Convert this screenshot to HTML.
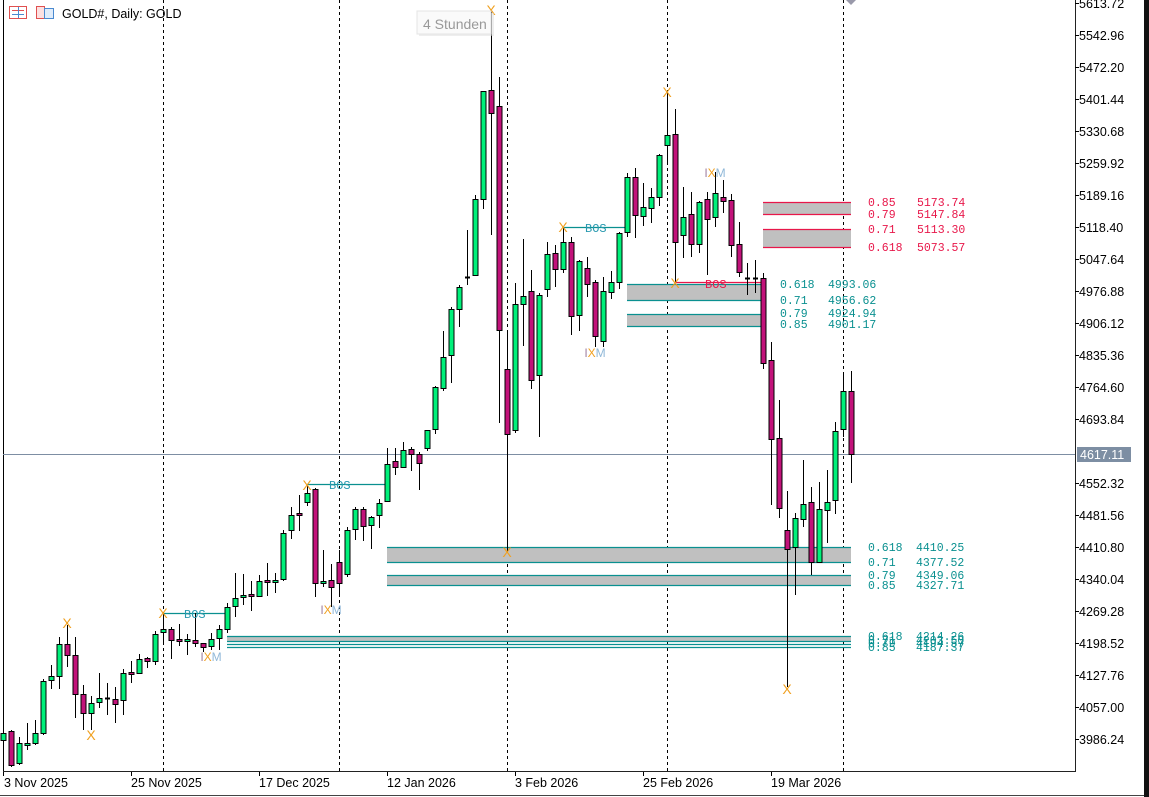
<!DOCTYPE html>
<html><head><meta charset="utf-8"><style>
html,body{margin:0;padding:0;background:#fff;width:1149px;height:797px;overflow:hidden}
svg{display:block}
text{font-family:"Liberation Sans",sans-serif}
.ax text{font-size:12.5px;fill:#000}
.m text{font-family:"Liberation Mono",monospace;font-size:11.5px}
.t text,.t{fill:#0a9090}.r text,.r{fill:#e8174a}
</style></head><body>
<svg id="s" width="1149" height="797" xmlns="http://www.w3.org/2000/svg">
<rect x="0" y="0" width="1149" height="797" fill="#fff"/>
<line x1="3.5" y1="0" x2="3.5" y2="772" stroke="#000"/>
<line x1="1075.5" y1="0" x2="1075.5" y2="772" stroke="#222"/>
<line x1="3" y1="771.5" x2="1076" y2="771.5" stroke="#222"/>
<rect x="1144" y="0" width="5" height="797" fill="#111"/>
<line x1="0" y1="795.5" x2="1144" y2="795.5" stroke="#444"/>
<g stroke="#000" stroke-dasharray="3,3" stroke-width="1">
<line x1="163.5" y1="0" x2="163.5" y2="771"/><line x1="339.5" y1="0" x2="339.5" y2="771"/>
<line x1="507.5" y1="0" x2="507.5" y2="771"/><line x1="667.5" y1="0" x2="667.5" y2="771"/>
<line x1="843.5" y1="0" x2="843.5" y2="771"/>
</g>
<g fill="#c0c0c0">
<rect x="763" y="202" width="88" height="12"/><rect x="763" y="229" width="88" height="18"/>
<rect x="627" y="284" width="136" height="16"/><rect x="627" y="314" width="136" height="12"/>
<rect x="387" y="547" width="464" height="15"/><rect x="387" y="575" width="464" height="10"/>
<rect x="227" y="636" width="624" height="5"/>
</g>
<g stroke="#e8174a" stroke-width="1.2">
<line x1="763" y1="202.5" x2="851" y2="202.5"/><line x1="763" y1="214.5" x2="851" y2="214.5"/>
<line x1="763" y1="229.5" x2="851" y2="229.5"/><line x1="763" y1="247.5" x2="851" y2="247.5"/>
<line x1="675" y1="282.5" x2="763" y2="282.5"/>
</g>
<g stroke="#0a9090" stroke-width="1.2">
<line x1="627" y1="284.5" x2="763" y2="284.5"/><line x1="627" y1="300.5" x2="763" y2="300.5"/>
<line x1="627" y1="314.5" x2="763" y2="314.5"/><line x1="627" y1="326.5" x2="763" y2="326.5"/>
<line x1="387" y1="547.5" x2="851" y2="547.5"/><line x1="387" y1="562.5" x2="851" y2="562.5"/>
<line x1="387" y1="575.5" x2="851" y2="575.5"/><line x1="387" y1="585.5" x2="851" y2="585.5"/>
<line x1="227" y1="636.5" x2="851" y2="636.5"/><line x1="227" y1="641.5" x2="851" y2="641.5"/>
<line x1="227" y1="644.5" x2="851" y2="644.5"/><line x1="227" y1="647.5" x2="851" y2="647.5"/>
<line x1="163" y1="613.5" x2="227" y2="613.5"/><line x1="307" y1="484.5" x2="387" y2="484.5"/>
<line x1="563" y1="227.5" x2="627" y2="227.5"/>
</g>
<line x1="3" y1="454.5" x2="1075" y2="454.5" stroke="#7d8ea3"/>
<g id="c"></g>
<g class="m r">
<text x="868" y="206">0.85</text><text x="917" y="206">5173.74</text>
<text x="868" y="218">0.79</text><text x="917" y="218">5147.84</text>
<text x="868" y="233">0.71</text><text x="917" y="233">5113.30</text>
<text x="868" y="251">0.618</text><text x="917" y="251">5073.57</text>
</g>
<g class="m t">
<text x="780" y="288">0.618</text><text x="828" y="288">4993.06</text>
<text x="780" y="304">0.71</text><text x="828" y="304">4956.62</text>
<text x="780" y="317">0.79</text><text x="828" y="317">4924.94</text>
<text x="780" y="328">0.85</text><text x="828" y="328">4901.17</text>
<text x="868" y="551">0.618</text><text x="916" y="551">4410.25</text>
<text x="868" y="566">0.71</text><text x="916" y="566">4377.52</text>
<text x="868" y="579">0.79</text><text x="916" y="579">4349.06</text>
<text x="868" y="589">0.85</text><text x="916" y="589">4327.71</text>
<text x="868" y="640">0.618</text><text x="916" y="640">4214.26</text>
<text x="868" y="644">0.71</text><text x="916" y="644">4203.50</text>
<text x="868" y="647">0.79</text><text x="916" y="647">4194.57</text>
<text x="868" y="651">0.85</text><text x="916" y="651">4187.37</text>
</g>
<g class="m">
<text x="184" y="618" style="fill:#2a9ab0;font-size:12px">BOS</text>
<text x="329" y="489" style="fill:#2a9ab0;font-size:12px">BOS</text>
<text x="585" y="232" style="fill:#2a9ab0;font-size:12px">BOS</text>
<text x="705" y="288" style="fill:#e8174a;font-size:12px">BOS</text>
</g>
<g font-size="14" fill="#f0a020" text-anchor="middle">
<text x="491" y="15">X</text><text x="67" y="628">X</text><text x="91" y="740">X</text>
<text x="163" y="618">X</text><text x="307" y="490">X</text><text x="507" y="557">X</text>
<text x="563" y="232">X</text><text x="667" y="97">X</text><text x="675" y="288">X</text>
<text x="787" y="694">X</text>
</g>
<g font-size="12" text-anchor="middle">
<text x="211" y="661"><tspan fill="#a080a0">I</tspan><tspan fill="#f0a020">X</tspan><tspan fill="#90b8d8">M</tspan></text>
<text x="331" y="614"><tspan fill="#a080a0">I</tspan><tspan fill="#f0a020">X</tspan><tspan fill="#90b8d8">M</tspan></text>
<text x="595" y="357"><tspan fill="#a080a0">I</tspan><tspan fill="#f0a020">X</tspan><tspan fill="#90b8d8">M</tspan></text>
<text x="715" y="177"><tspan fill="#a080a0">I</tspan><tspan fill="#f0a020">X</tspan><tspan fill="#90b8d8">M</tspan></text>
</g>
<rect x="419" y="13" width="75" height="23" fill="#ddd" opacity=".5"/>
<rect x="417" y="11" width="74" height="23" fill="#fafafa" stroke="#e4e4e4"/>
<text x="423" y="29" font-size="14" fill="#999">4 Stunden</text>
<g stroke-width="1">
<rect x="9.5" y="6.5" width="17" height="12" fill="#fff" stroke="#e05050"/>
<line x1="12" y1="10.5" x2="24" y2="10.5" stroke="#e05050"/><line x1="12" y1="14.5" x2="24" y2="14.5" stroke="#4a8ad0"/>
<line x1="18.5" y1="7" x2="18.5" y2="18" stroke="#4a8ad0"/>
<rect x="36.5" y="6.5" width="8" height="12" fill="#fde0e0" stroke="#e05050"/>
<rect x="44.5" y="8.5" width="9" height="10" fill="#e0ecfa" stroke="#4a8ad0"/>
</g>
<text x="62" y="18" font-size="12.5" fill="#000">GOLD#, Daily:  GOLD</text>
<path d="M846 0 L851 5 L856 0 Z" fill="#99a"/>
<g stroke="#000">
<line x1="1075" y1="3.5" x2="1079" y2="3.5"/><line x1="1075" y1="35.5" x2="1079" y2="35.5"/><line x1="1075" y1="67.5" x2="1079" y2="67.5"/><line x1="1075" y1="99.5" x2="1079" y2="99.5"/><line x1="1075" y1="131.5" x2="1079" y2="131.5"/><line x1="1075" y1="163.5" x2="1079" y2="163.5"/><line x1="1075" y1="195.5" x2="1079" y2="195.5"/><line x1="1075" y1="227.5" x2="1079" y2="227.5"/><line x1="1075" y1="259.5" x2="1079" y2="259.5"/><line x1="1075" y1="291.5" x2="1079" y2="291.5"/><line x1="1075" y1="323.5" x2="1079" y2="323.5"/><line x1="1075" y1="355.5" x2="1079" y2="355.5"/><line x1="1075" y1="387.5" x2="1079" y2="387.5"/><line x1="1075" y1="419.5" x2="1079" y2="419.5"/><line x1="1075" y1="483.5" x2="1079" y2="483.5"/><line x1="1075" y1="515.5" x2="1079" y2="515.5"/><line x1="1075" y1="547.5" x2="1079" y2="547.5"/><line x1="1075" y1="579.5" x2="1079" y2="579.5"/><line x1="1075" y1="611.5" x2="1079" y2="611.5"/><line x1="1075" y1="643.5" x2="1079" y2="643.5"/><line x1="1075" y1="675.5" x2="1079" y2="675.5"/><line x1="1075" y1="707.5" x2="1079" y2="707.5"/><line x1="1075" y1="739.5" x2="1079" y2="739.5"/>
</g>
<g class="ax">
<text x="1079" y="8">5613.72</text><text x="1079" y="40">5542.96</text><text x="1079" y="72">5472.20</text><text x="1079" y="104">5401.44</text><text x="1079" y="136">5330.68</text><text x="1079" y="168">5259.92</text><text x="1079" y="200">5189.16</text><text x="1079" y="232">5118.40</text><text x="1079" y="264">5047.64</text><text x="1079" y="296">4976.88</text><text x="1079" y="328">4906.12</text><text x="1079" y="360">4835.36</text><text x="1079" y="392">4764.60</text><text x="1079" y="424">4693.84</text><text x="1079" y="488">4552.32</text><text x="1079" y="520">4481.56</text><text x="1079" y="552">4410.80</text><text x="1079" y="584">4340.04</text><text x="1079" y="616">4269.28</text><text x="1079" y="648">4198.52</text><text x="1079" y="680">4127.76</text><text x="1079" y="712">4057.00</text><text x="1079" y="744">3986.24</text>
</g>
<rect x="1077" y="447" width="54" height="15" fill="#7d8ea3"/>
<text x="1080" y="459" font-size="12.5" fill="#fff">4617.11</text>
<g stroke="#000">
<line x1="3.5" y1="772" x2="3.5" y2="776"/><line x1="131.5" y1="772" x2="131.5" y2="776"/><line x1="259.5" y1="772" x2="259.5" y2="776"/><line x1="387.5" y1="772" x2="387.5" y2="776"/><line x1="515.5" y1="772" x2="515.5" y2="776"/><line x1="643.5" y1="772" x2="643.5" y2="776"/><line x1="771.5" y1="772" x2="771.5" y2="776"/>
</g>
<g class="ax">
<text x="4" y="787">3 Nov 2025</text><text x="131" y="787">25 Nov 2025</text><text x="259" y="787">17 Dec 2025</text><text x="387" y="787">12 Jan 2026</text><text x="515" y="787">3 Feb 2026</text><text x="643" y="787">25 Feb 2026</text><text x="771" y="787">19 Mar 2026</text>
</g>
</svg>
<script>
var D=[
["g",733,740,730,745],["r",731,765,730,767],["g",743,763,737,765],["g",743,745,723,750],["g",733,743,720,745],
["g",681,733,679,735],["g",676,680,665,689],["g",644,676,637,689],["r",644,655,625,667],["r",655,694,637,718],
["r",694,713,685,730],["g",703,713,696,730],["g",698,702,673,708],["d",698,698,683,715],["r",699,704,687,723],
["g",673,700,669,715],["r",672,674,661,683],["g",659,673,654,674],["r",658,661,657,668],["g",634,661,631,665],
["g",629,632,613,643],["r",629,640,627,659],["r",639,641,624,646],["g",639,641,634,655],["r",640,643,613,647],
["r",643,647,643,652],["g",639,646,633,650],["g",629,638,625,650],["g",607,629,603,633],["g",598,606,573,617],
["g",595,597,574,605],["r",594,596,581,611],["g",581,596,575,597],["r",580,582,563,596],["g",580,582,573,593],
["g",533,579,530,581],["g",515,530,507,539],["r",513,515,495,531],["g",493,502,486,506],["r",489,583,488,597],
["g",581,582,550,587],["r",580,587,564,607],["r",562,583,550,594],["g",530,574,527,577],["g",509,529,507,540],
["r",509,526,507,541],["g",517,525,516,549],["g",503,515,499,528],["g",464,501,448,502],["r",461,467,448,475],
["g",450,467,442,467],["r",449,454,447,471],["r",454,463,452,490],["g",430,448,430,451],["g",387,429,386,434],
["g",357,388,331,391],["g",309,355,307,383],["g",287,309,285,327],["d",277,277,230,285],["g",199,275,195,276],
["g",91,199,91,209],["r",90,113,10,235],["r",106,330,77,423],["r",369,434,333,552],["g",304,430,283,433],
["g",296,304,239,346],["r",291,380,270,389],["g",295,375,293,437],["g",254,289,242,297],["r",253,269,245,287],
["g",242,269,227,273],["r",242,316,237,335],["g",261,315,260,331],["r",268,284,257,297],["r",282,336,280,347],
["g",291,341,277,347],["g",282,292,271,299],["g",233,282,232,289],["g",177,232,173,237],["r",177,215,168,238],
["g",207,216,183,226],["g",197,208,188,223],["g",155,197,154,206],["g",135,145,92,163],["r",134,242,109,282],
["g",217,235,187,258],["r",214,244,192,257],["g",202,244,201,253],["r",199,219,192,275],["g",193,217,172,227],
["r",197,201,180,213],["r",200,245,194,257],["r",244,272,222,277],["d",278,278,263,295],["d",278,278,260,293],
["r",278,363,273,369],["r",360,439,342,505],["r",438,508,400,518],["r",530,549,491,687],["g",518,547,513,595],
["g",504,519,460,527],["r",502,562,487,575],["g",509,562,482,563],["g",502,510,470,543],["g",431,500,422,514],
["g",391,429,373,437],["r",391,454,371,483]];
var g=document.getElementById("c"),h="";
for(var i=0;i<D.length;i++){var d=D[i],x=3+8*i;
h+='<line x1="'+(x+.5)+'" y1="'+d[3]+'" x2="'+(x+.5)+'" y2="'+d[4]+'" stroke="#000"/>';
if(d[0]=="d"){h+='<line x1="'+(x-2)+'" y1="'+(d[1]+.5)+'" x2="'+(x+3)+'" y2="'+(d[1]+.5)+'" stroke="#000" stroke-width="2"/>';}
else{var hh=Math.max(d[2]-d[1],2);h+='<rect x="'+(x-2)+'" y="'+(d[1]+.5)+'" width="5" height="'+hh+'" fill="'+(d[0]=="g"?"#00f07a":"#c2127a")+'" stroke="#000" stroke-width="1"/>';}}
g.innerHTML=h;
</script>
</body></html>
